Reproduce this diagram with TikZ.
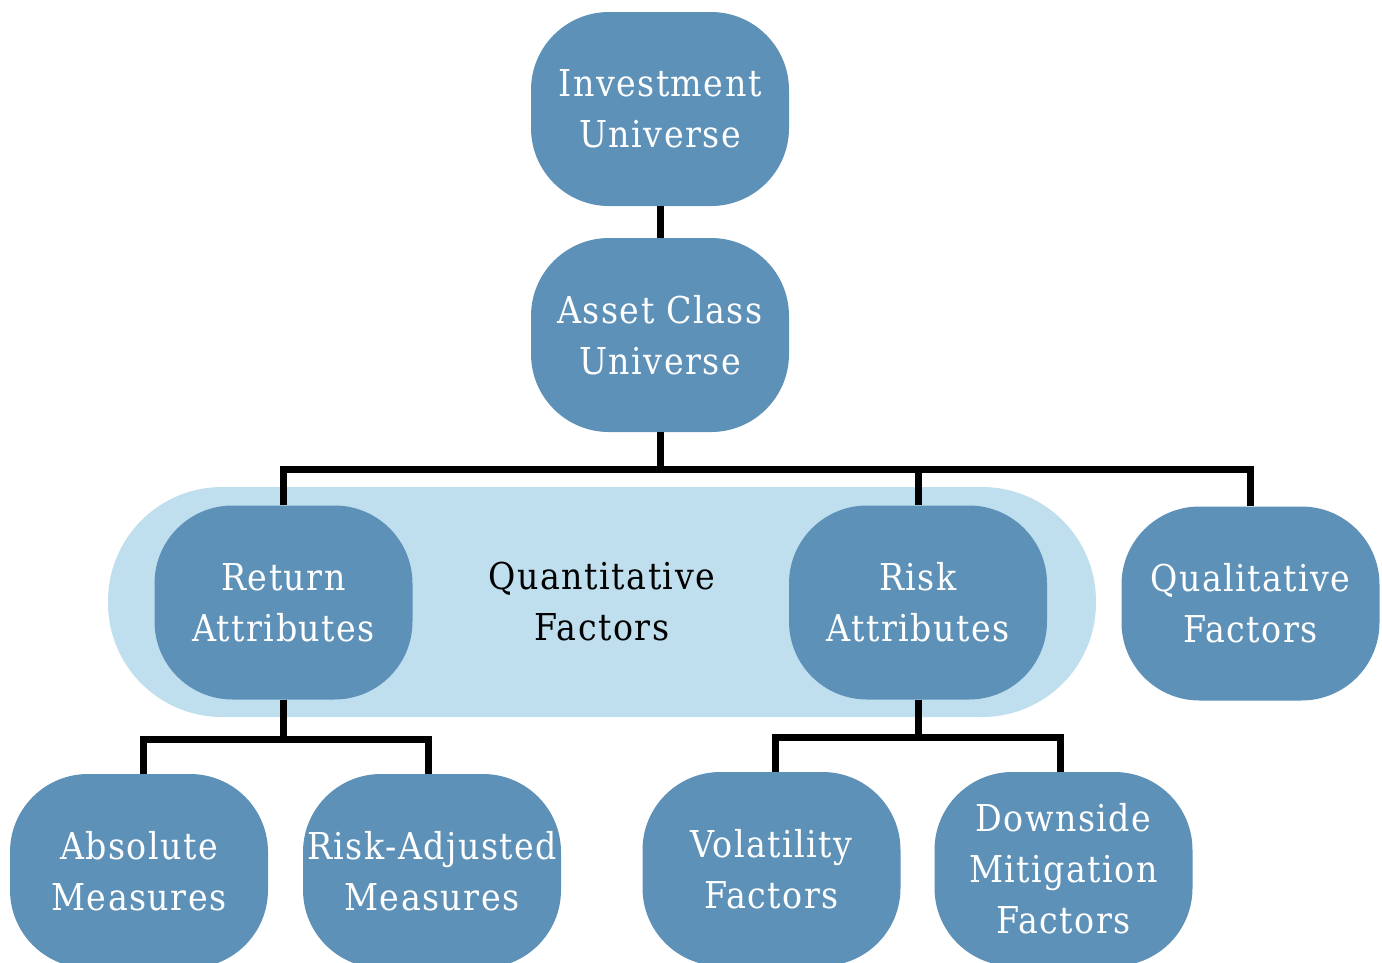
\documentclass[tikz,border=0pt]{standalone}
\usepackage{fontspec}
\setmainfont{DejaVu Serif Condensed}[LetterSpace=4]
\definecolor{boxblue}{HTML}{5E91B8}
\definecolor{pillblue}{HTML}{BFDFEE}
\begin{document}
\begin{tikzpicture}[x=1pt,y=-1pt,
  box/.style={rectangle, rounded corners=78pt, fill=boxblue, text=white,
    minimum width=258pt, minimum height=194pt, inner sep=0pt, align=center,
    font=\fontsize{37}{51}\selectfont},
  pill/.style={rectangle, rounded corners=114pt, fill=pillblue, text=black,
    minimum width=988pt, minimum height=230pt, inner sep=0pt, align=center,
    font=\fontsize{37}{51}\selectfont},
  conn/.style={draw=black, line width=7pt, line join=miter}]
\useasboundingbox (0,0) rectangle (1382,962);
\clip (0,0) rectangle (1382,962);

% grouping band behind the quantitative branch
\node[pill] (quant) at (602,602) {Quantitative\\Factors};

% hierarchy boxes
\node[box] (inv)   at (660,109)    {Investment\\Universe};
\node[box] (asset) at (660,335)    {Asset Class\\Universe};
\node[box] (ret)   at (283.5,602.5) {Return\\Attributes};
\node[box] (risk)  at (918,602.5)  {Risk\\Attributes};
\node[box] (qual)  at (1250.5,603.5) {Qualitative\\Factors};
\node[box] (abs)   at (139,871)    {Absolute\\Measures};
\node[box] (radj)  at (432,871)    {Risk-Adjusted\\Measures};
\node[box] (vol)   at (771.5,869)  {Volatility\\Factors};
\node[box] (down)  at (1063.5,869) {Downside\\Mitigation\\Factors};

% junction points of the tree
\coordinate (j1) at (660,469);
\coordinate (j2) at (283.5,739);
\coordinate (j3) at (918,737);

% connectors
\draw[conn] (inv.south) -- (asset.north);
\draw[conn] (asset.south) -- (j1);
\draw[conn] (ret.north) -- (ret.north |- j1) -- (qual.north |- j1) -- (qual.north);
\draw[conn] (risk.north) -- (risk.north |- j1);

\draw[conn] (ret.south) -- (j2);
\draw[conn] ([xshift=4pt]abs.north) -- ([xshift=4pt]abs.north |- j2)
  -- ([xshift=-4pt]radj.north |- j2) -- ([xshift=-4pt]radj.north);

\draw[conn] (risk.south) -- (j3);
\draw[conn] ([xshift=3.5pt]vol.north) -- ([xshift=3.5pt]vol.north |- j3)
  -- ([xshift=-3.5pt]down.north |- j3) -- ([xshift=-3.5pt]down.north);
\end{tikzpicture}
\end{document}
